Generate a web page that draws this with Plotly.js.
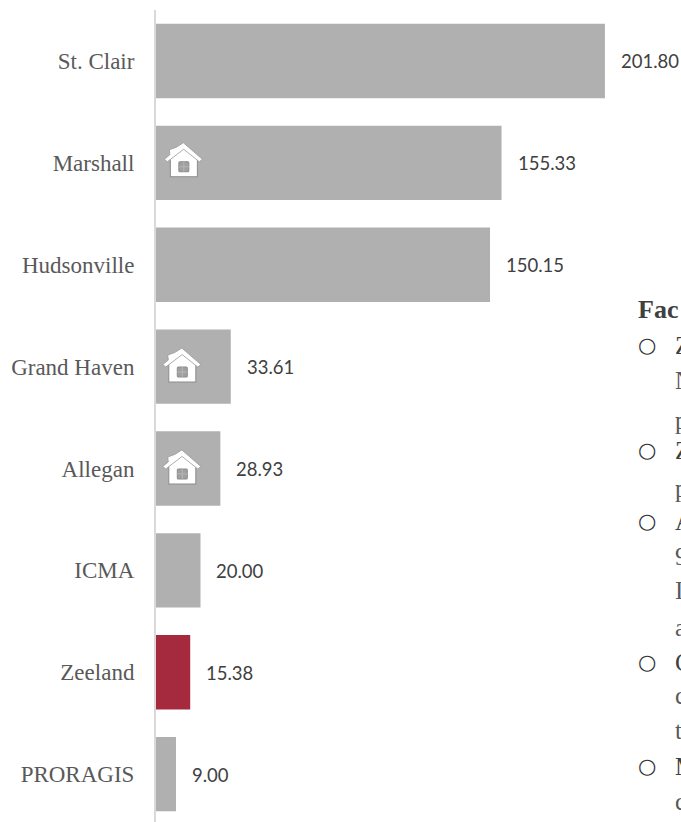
<!DOCTYPE html>
<html>
<head>
<meta charset="utf-8">
<script src="https://cdn.plot.ly/plotly-3.0.1.min.js"></script>
<style>html,body{margin:0;padding:0;background:#fff;overflow:hidden}</style>
</head>
<body>
<div id="chart" style="width:681px;height:822px"></div>
<script>
// Peer comparison values
const categories = ["St. Clair","Marshall","Hudsonville","Grand Haven","Allegan","ICMA","Zeeland","PRORAGIS"];
const values = [201.80,155.33,150.15,33.61,28.93,20.00,15.38,9.00];
const highlighted = "Zeeland";
const housed = ["Marshall","Grand Haven","Allegan"];

// Side notes, running off the right edge of the page
const notesHeading = "Fac";
const bulletFirstLines = [["Z",345],["Z",450],["A",521],["C",662],["M",766]];
const noteLines = [["N",380],["p",420],["p",488],["9",557],["I",590],["a",627],["c",695],["t",730],["c",801]];

const GREY = "#b0b0b0", RED = "#a62a3e", INK = "#595959";
const SERIF = "Liberation Serif, serif";

const houseSvg = "data:image/svg+xml," + encodeURIComponent(
 '<svg xmlns="http://www.w3.org/2000/svg" viewBox="0 0 40 36">' +
 '<path d="M7 17 L7 35 L34 35 L34 17 L20.5 5 Z" fill="#fff" stroke="#8c8c8c" stroke-width="1"/>' +
 '<path d="M1 17.5 L6.5 13 L6 8 L13 5.5 L20 1 L39 17.5 L36 20 L20.3 7.5 L4 20 Z" fill="#fff" stroke="#9a9a9a" stroke-width="0.8" stroke-linejoin="round"/>' +
 '<rect x="15.5" y="20" width="10" height="10" rx="1" fill="#a0a0a0" stroke="#8c8c8c"/>' +
 '<path d="M20.5 20V30M15.5 25H25.5" stroke="#bdbdbd" stroke-width="0.8"/></svg>');

const valueNotes = categories.map((c,i)=>({
  xref:"x", yref:"y", x:values[i], y:c, text:values[i].toFixed(2),
  xanchor:"left", yanchor:"middle", xshift:14, yshift:-0.5, showarrow:false,
  font:{family:"Lato, sans-serif", size:18.5, color:"#404040"}
}));

const pageNote = (text,px,py,font) => ({
  xref:"paper", yref:"paper", x:(px-156)/525, y:(822-py)/812, text,
  xanchor:"left", yanchor:"middle", showarrow:false, align:"left", font
});
const sideNotes = [
  pageNote(notesHeading,636,309,{family:SERIF,size:26,color:"#404040",weight:700}),
  ...bulletFirstLines.map(([t,y])=>pageNote(t,673,y,{family:SERIF,size:25,color:"#404040"})),
  ...noteLines.map(([t,y])=>pageNote(t,673,y,{family:SERIF,size:25,color:"#595959"})),
  ...bulletFirstLines.map(([t,y])=>pageNote("\u25CB",636,y,{family:"DejaVu Sans, sans-serif",size:21,color:"#303030"}))
];

const data = [{
  type:"bar", orientation:"h", x:values, y:categories,
  marker:{color:categories.map(c=>c===highlighted?RED:GREY), line:{width:0}},
  hoverinfo:"skip", cliponaxis:false
}];

const layout = {
  width:681, height:822, margin:{l:156,r:0,t:10,b:0},
  paper_bgcolor:"#fff", plot_bgcolor:"#fff", showlegend:false, bargap:0.27,
  xaxis:{range:[0,236],visible:false,fixedrange:true},
  yaxis:{type:"category",categoryorder:"array",categoryarray:categories,range:[7.47,-0.5],
    showline:true,linecolor:"#d9d9d9",linewidth:2,showgrid:false,zeroline:false,ticks:"",
    ticklabelstandoff:15,fixedrange:true,tickfont:{family:SERIF,size:23,color:INK}},
  annotations:[...valueNotes,...sideNotes],
  images:housed.map(c=>({
    source:houseSvg, xref:"x", yref:"y", x:values[categories.indexOf(c)]>100?3.3:2.6,
    y:categories.indexOf(c)-(values[categories.indexOf(c)]>100?0.03:0.015),
    sizex:18, sizey:0.37, xanchor:"left", yanchor:"middle", sizing:"contain", layer:"above"
  }))
};
Plotly.newPlot("chart",data,layout,{displayModeBar:false,responsive:false});
</script>
</body>
</html>
